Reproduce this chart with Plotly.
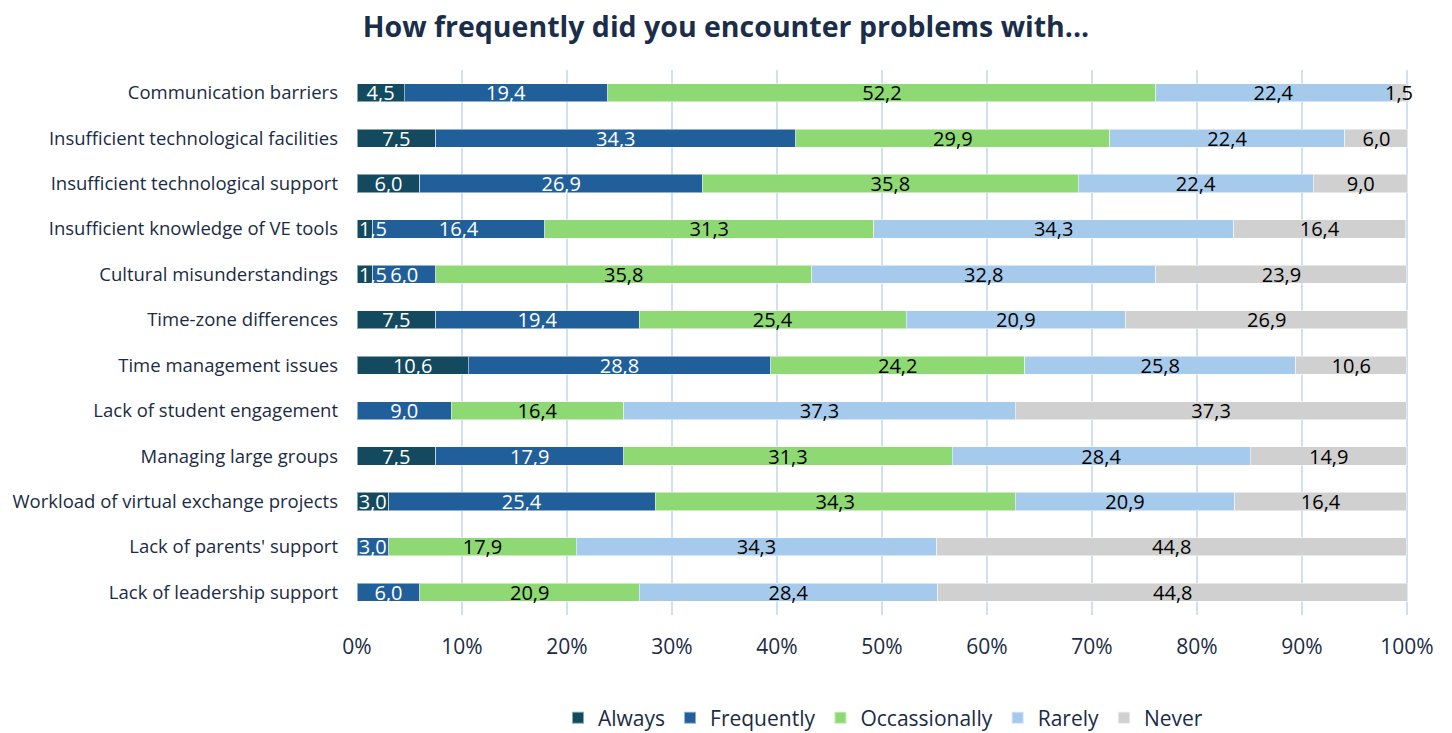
import plotly.graph_objects as go

categories = [
    "Communication barriers",
    "Insufficient technological facilities",
    "Insufficient technological support",
    "Insufficient knowledge of VE tools",
    "Cultural misunderstandings",
    "Time-zone differences",
    "Time management issues",
    "Lack of student engagement",
    "Managing large groups",
    "Workload of virtual exchange projects",
    "Lack of parents' support",
    "Lack of leadership support",
]

always = [4.5, 7.5, 6.0, 1.5, 1.5, 7.5, 10.6, 0, 7.5, 3.0, 0, 0]
frequently = [19.4, 34.3, 26.9, 16.4, 6.0, 19.4, 28.8, 9.0, 17.9, 25.4, 3.0, 6.0]
occasionally = [52.2, 29.9, 35.8, 31.3, 35.8, 25.4, 24.2, 16.4, 31.3, 34.3, 17.9, 20.9]
rarely = [22.4, 22.4, 22.4, 34.3, 32.8, 20.9, 25.8, 37.3, 28.4, 20.9, 34.3, 28.4]
never = [1.5, 6.0, 9.0, 16.4, 23.9, 26.9, 10.6, 37.3, 14.9, 16.4, 44.8, 44.8]

series = [
    ("Always", always, "#134a5f", "white"),
    ("Frequently", frequently, "#215f9a", "white"),
    ("Occassionally", occasionally, "#8ed973", "black"),
    ("Rarely", rarely, "#a6caec", "black"),
    ("Never", never, "#d0d0d0", "black"),
]

FONT = "Open Sans"
TXT = "#1a2b45"
LABEL_SIZE = 20


def fmt(v):
    return f"{v:.1f}".replace(".", ",")


fig = go.Figure()
annotations = []
for idx, (name, vals, color, tcolor) in enumerate(series):
    texts = []
    for cat, v in zip(categories, vals):
        if v == 0:
            texts.append("")
        elif idx == 0 and v < 2.5:
            # tiny first segment: label starts at the bar's left edge and overflows
            texts.append("")
            annotations.append(dict(
                x=0, y=cat, xref="x", yref="y", text=fmt(v), showarrow=False,
                xanchor="left", xshift=0,
                font=dict(color=tcolor, size=LABEL_SIZE, family=FONT)))
        else:
            texts.append(fmt(v))
    fig.add_trace(go.Bar(
        y=categories, x=[v / 100 for v in vals], name=name, orientation="h",
        marker=dict(color=color, line=dict(color="rgba(255,255,255,0.5)", width=1)),
        text=texts, textposition="inside", insidetextanchor="middle", textangle=0,
        textfont=dict(color=tcolor, size=LABEL_SIZE, family=FONT),
        constraintext="none", cliponaxis=False,
        hoverinfo="x+y+name",
    ))

fig.update_layout(
    barmode="stack", bargap=0.6,
    width=1452, height=733,
    margin=dict(l=357, r=43, t=70, b=118, autoexpand=False),
    paper_bgcolor="white", plot_bgcolor="white",
    font=dict(family=FONT, color=TXT),
    uniformtext=dict(minsize=LABEL_SIZE, mode="show"),
    annotations=annotations,
    title=dict(text="<b>How frequently did you encounter problems with...</b>",
               x=0.5, xanchor="center", y=0.963, yanchor="middle",
               font=dict(size=28.5, color="#1a2e4a", family=FONT)),
    legend=dict(orientation="h", x=0.5, xanchor="center", y=-0.189, yanchor="middle",
                font=dict(size=21, color=TXT, family=FONT),
                traceorder="normal", itemwidth=30, itemsizing="constant"),
    xaxis=dict(range=[0, 1.002], tickformat=".0%", tickvals=[i / 10 for i in range(11)],
               showgrid=True, gridcolor="#cfe0f3", gridwidth=2, zeroline=False, showline=False,
               tickfont=dict(size=21, color=TXT, family=FONT),
               ticklabelstandoff=17),
    yaxis=dict(autorange="reversed", showgrid=False, showline=False, zeroline=False,
               tickfont=dict(size=18.5, color=TXT, family=FONT),
               ticklabelstandoff=18),
)

fig.write_html("out.html")
